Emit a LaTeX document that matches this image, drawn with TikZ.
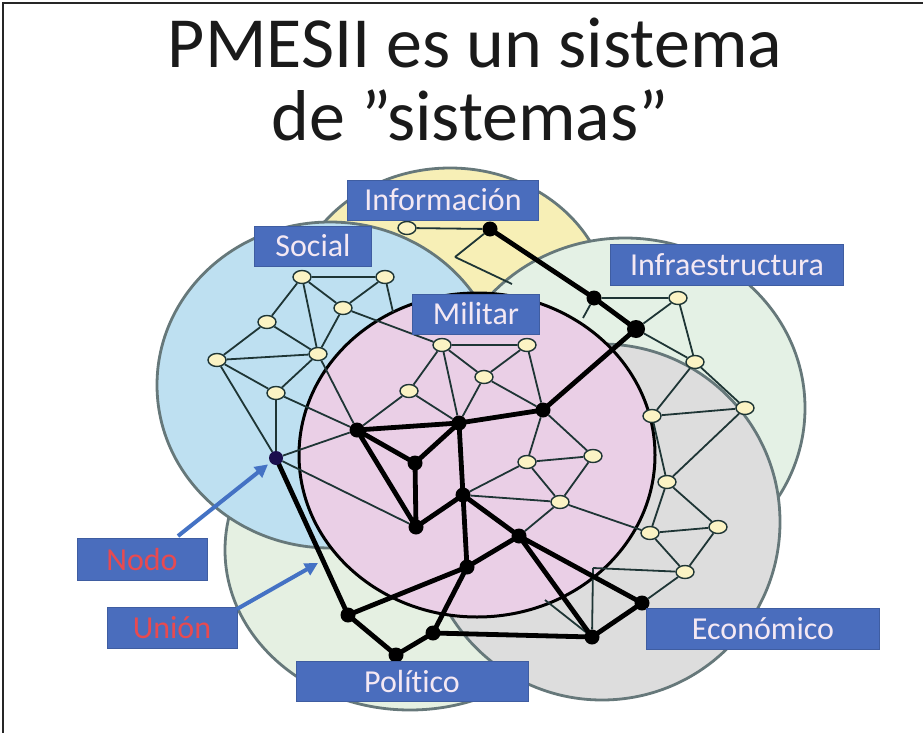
\documentclass[tikz,border=0pt]{standalone}
\usepackage{fontspec}
\setmainfont{Carlito}[Ligatures=NoCommon]
\usetikzlibrary{arrows.meta,shapes.geometric}
\pgfdeclarelayer{circ}
\pgfdeclarelayer{edge}
\pgfsetlayers{circ,edge,main}
\definecolor{yel}{HTML}{F7EFB6}
\definecolor{blu}{HTML}{BEE0F1}
\definecolor{pnk}{HTML}{EACFE6}
\definecolor{grn}{HTML}{E4F1E5}
\definecolor{gry}{HTML}{DDDDDD}
\definecolor{pol}{HTML}{E5F0E2}
\definecolor{rim}{HTML}{66787A}
\definecolor{lblfill}{HTML}{4A6DBD}
\definecolor{lbltxt}{HTML}{F4E8F3}
\definecolor{redtxt}{HTML}{E84A50}
\definecolor{edgec}{HTML}{1E3535}
\definecolor{ynode}{HTML}{FBF3C4}
\definecolor{arrowc}{HTML}{4472C4}
\definecolor{navy}{HTML}{1B0F4D}
\definecolor{titc}{HTML}{1A1A1A}
\tikzset{
  yn/.style={ellipse, draw=edgec, line width=1.4pt, fill=ynode, minimum width=18pt, minimum height=13pt, inner sep=0pt},
  bn/.style={circle, fill=black, minimum size=15pt, inner sep=0pt},
  nn/.style={circle, fill=navy, minimum size=14pt, inner sep=0pt},
  lnk/.style={draw=edgec, line width=1.8pt},
  blk/.style={draw=black, line width=4.8pt, line cap=round},
  zone/.style={draw=rim, line width=2.8pt},
  lab/.style={fill=lblfill, draw=lblfill!85!black, line width=0.6pt, text=lbltxt, font=\fontsize{32}{32}\selectfont, minimum height=40pt, inner sep=0pt},
  pointer/.style={draw=arrowc, line width=4pt, -{Triangle[length=13pt,width=13pt]}},
}
\begin{document}
\begin{tikzpicture}[x=1pt,y=-1pt]
\useasboundingbox (0,0) rectangle (923,733);

% zones
\begin{pgfonlayer}{circ}
\fill[white] (0,0) rectangle (923,733);
\filldraw[zone, fill=yel] (450,310) ellipse [x radius=160pt, y radius=142pt];
\filldraw[zone, fill=pol] (410,550) ellipse [x radius=185pt, y radius=160pt];
\filldraw[zone, fill=blu] (330,385) ellipse [x radius=173pt, y radius=163pt];
\filldraw[zone, fill=grn] (625,408) ellipse [x radius=180pt, y radius=170pt];
\filldraw[zone, fill=gry] (602,522) circle [radius=178pt];
\filldraw[draw=black, line width=3pt, fill=pnk] (477,455) ellipse [x radius=178pt, y radius=162pt];
\end{pgfonlayer}

\draw[line width=2pt, black!85] (3,733) -- (3,3) -- (923,3);

% title
\node[anchor=base, text=titc, font=\fontsize{72}{72}\selectfont, inner sep=0pt] (t1) at (475,68) {PMESII es un sistema};
\node[anchor=base, text=titc, font=\fontsize{72}{72}\selectfont, inner sep=0pt] (t2) at (470,140) {de ”sistemas”};

% social nodes
\node[yn] (s1) at (302,277) {};
\node[yn] (s2) at (385,277) {};
\node[yn] (s3) at (343,308) {};
\node[yn] (s4) at (267,322) {};
\node[yn] (s5) at (217,360) {};
\node[yn] (s6) at (318,354) {};
\node[yn] (s7) at (276,393) {};
\node[nn] (nodo) at (276,458) {};
% information
\node[yn] (i1) at (407,228) {};
\node[bn] (i2) at (490,229) {};
\coordinate (ya) at (455,257);
\coordinate (yb) at (512,284);
% infrastructure
\node[bn] (I1) at (594,298) {};
\node[bn, minimum size=18pt] (I2) at (636,329) {};
\node[yn] (Iy1) at (678,298) {};
\node[yn] (Iy2) at (695,362) {};
% economic
\node[yn] (g1) at (652,416) {};
\node[yn] (g2) at (745,408) {};
\node[yn] (g3) at (667,482) {};
\node[yn] (g4) at (718,527) {};
\node[yn] (g5) at (650,533) {};
\node[yn] (g6) at (685,572) {};
\node[bn] (q1) at (592,637) {};
\node[bn] (q2) at (642,603) {};
% military
\node[yn] (m1) at (442,345) {};
\node[yn] (m2) at (527,345) {};
\node[yn] (m3) at (484,377) {};
\node[yn] (m4) at (409,391) {};
\node[yn] (m5) at (527,462) {};
\node[yn] (m6) at (593,456) {};
\node[yn] (m7) at (560,502) {};
\node[bn] (mK) at (357,430) {};
\node[bn] (mC) at (459,423) {};
\node[bn] (mR) at (543,410) {};
\node[bn] (mT) at (415,463) {};
\node[bn] (mB) at (416,527) {};
\node[bn] (mD) at (463,495) {};
\node[bn] (mE) at (519,536) {};
\node[bn] (mP) at (467,567) {};
% political
\node[bn] (p1) at (348,615) {};
\node[bn] (p2) at (433,633) {};
\node[bn] (p3) at (396,655) {};
% free ends
\coordinate (c1) at (393,312);
\coordinate (c2) at (583,318);
\coordinate (c3) at (593,568);
\coordinate (c4) at (545,600);

\begin{pgfonlayer}{edge}
% thin links
\path[lnk] (s1)--(s2) (s1)--(s3) (s1)--(s4) (s1)--(s6) (s2)--(s3) (s4)--(s6) (s3)--(s6)
  (s4)--(s5) (s5)--(s6) (s5)--(s7) (s6)--(s7) (s5)--(nodo) (s7)--(nodo)
  (s7)--(mK) (s6)--(mK) (nodo)--(mK) (nodo)--(mB) (s3)--(m1) (s2)--(c1);
\path[lnk] (i1)--(i2) (i2)--(ya) (ya)--(yb);
\path[lnk] (m1)--(m2) (m1)--(m3) (m1)--(m4) (m1)--(mC) (m2)--(m3) (m2)--(mR) (m3)--(mC) (m3)--(mR)
  (m4)--(mK) (m4)--(mC) (mR)--(m5) (mR)--(m6) (m5)--(m6) (m5)--(m7) (m6)--(m7) (m5)--(mD)
  (mD)--(m7) (m7)--(mE) (m7)--(g5);
\path[lnk] (I1)--(Iy1) (I2)--(Iy1) (Iy1)--(Iy2) (I2)--(Iy2) (Iy2)--(g2) (Iy2)--(g1) (I1)--(c2);
\path[lnk] (g1)--(g2) (g2)--(g3) (g1)--(g3) (g3)--(g4) (g3)--(g5) (g4)--(g5) (g4)--(g6) (g5)--(g6)
  (g6)--(q2) (g6)--(c3) (c3)--(q1) (q1)--(c4);
% thick links
\path[blk] (i2.center)--(I1.center) (I1.center)--(I2.center) (I2.center)--(mR.center) (mR.center)--(mC.center)
  (mC.center)--(mK.center) (mK.center)--(mT.center) (mK.center)--(mB.center) (mT.center)--(mC.center)
  (mT.center)--(mB.center) (mC.center)--(mD.center) (mB.center)--(mD.center) (mD.center)--(mE.center)
  (mD.center)--(mP.center) (mE.center)--(mP.center) (mP.center)--(p1.center) (mP.center)--(p2.center)
  (p1.center)--(p3.center) (p3.center)--(p2.center) (p2.center)--(q1.center) (mE.center)--(q1.center)
  (mE.center)--(q2.center) (q1.center)--(q2.center) (nodo.center)--(p1.center);
\end{pgfonlayer}

% labels
\node[lab, minimum width=191pt] (Linfo) at (443,200) {Información};
\node[lab, minimum width=117pt] (Lsoc) at (313,246) {Social};
\node[lab, minimum width=127pt] (Lmil) at (476,314) {Militar};
\node[lab, minimum width=233pt, minimum height=41pt] (Linf) at (727,265) {Infraestructura};
\node[lab, minimum width=233pt, minimum height=41pt] (Leco) at (763,629) {Económico};
\node[lab, minimum width=232pt] (Lpol) at (412,681) {Político};
\node[lab, text=redtxt, minimum width=130pt, minimum height=42pt] (Lnodo) at (142,559) {Nodo};
\node[lab, text=redtxt, minimum width=130pt, minimum height=41pt] (Luni) at (172,628) {Unión};

% pointers
\coordinate (na) at (178,536);
\coordinate (ua) at (237,609);
\coordinate (ub) at (318,563);
\draw[pointer, shorten >=3pt] (na) -- (nodo);
\draw[pointer] (ua) -- (ub);
\end{tikzpicture}
\end{document}
